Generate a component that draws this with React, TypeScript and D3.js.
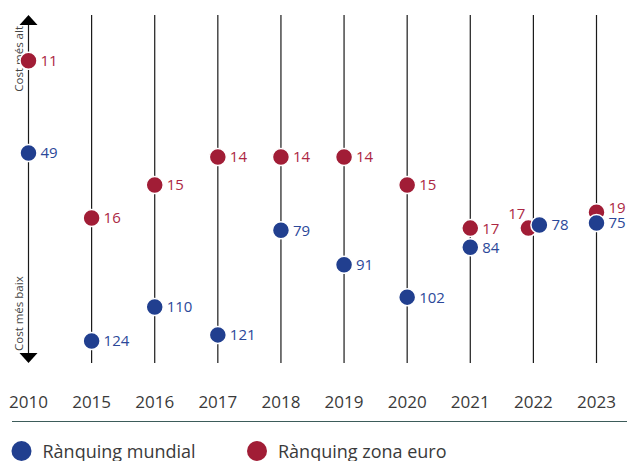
import React, { useEffect, useRef } from 'react';
import * as d3 from 'd3';

// anys de l'eix horitzontal
const years = ['2010', '2015', '2016', '2017', '2018', '2019', '2020', '2021', '2022', '2023'];

// rànquings (etiquetes dels punts)
const rankMundial = [49, 124, 110, 121, 79, 91, 102, 84, 78, 75];
const rankEuro = [11, 16, 15, 14, 14, 14, 15, 17, 17, 19];

// posició relativa de cost (0 = cost més baix, 100 = cost més alt), llegida del gràfic
const costMundial = [60.3, 5.0, 15.0, 6.8, 37.6, 27.4, 17.9, 32.6, 39.1, 39.7];
const costEuro = [87.4, 41.2, 50.9, 59.1, 59.1, 59.1, 50.9, 38.2, 38.2, 42.9];

const legendLabels = ['Rànquing mundial', 'Rànquing zona euro'];

const BLUE = '#213f8f';
const RED = '#a11d36';
const FONT = '"Open Sans", "Noto Sans", sans-serif';

const App = () => {
  const svgRef = useRef<SVGSVGElement | null>(null);

  useEffect(() => {
    if (!svgRef.current) return;
    const svg = d3.select(svgRef.current);
    svg.selectAll('*').remove();

    const width = 627;
    const lineTop = 15;
    const lineBottom = 363;

    const x = d3.scalePoint<string>().domain(years).range([28.5, 596.5]);
    const y = d3.scaleLinear().domain([0, 100]).range([358, 18]);

    const g = svg.append('g').style('font-family', FONT);

    // vertical guide lines
    g.selectAll('line.guide')
      .data(years)
      .enter()
      .append('line')
      .attr('class', 'guide')
      .attr('x1', d => x(d)!)
      .attr('x2', d => x(d)!)
      .attr('y1', (d, i) => (i === 0 ? lineTop + 8 : lineTop))
      .attr('y2', (d, i) => (i === 0 ? lineBottom - 8 : lineBottom))
      .attr('stroke', '#1a1a1a')
      .attr('stroke-width', 1.2);

    // arrows on the first line
    const ax = x(years[0])!;
    g.append('path')
      .attr('d', `M${ax},${lineTop} L${ax + 9},${lineTop + 10} L${ax - 9},${lineTop + 10} Z`)
      .attr('fill', '#000');
    g.append('path')
      .attr('d', `M${ax},${lineBottom} L${ax + 9},${lineBottom - 10} L${ax - 9},${lineBottom - 10} Z`)
      .attr('fill', '#000');

    // axis titles
    g.append('text')
      .attr('transform', `translate(22.5,26) rotate(-90)`)
      .attr('text-anchor', 'end')
      .attr('fill', '#444')
      .style('font-size', '11.5px')
      .text('Cost més alt');
    g.append('text')
      .attr('transform', `translate(22.5,351) rotate(-90)`)
      .attr('text-anchor', 'start')
      .attr('fill', '#444')
      .style('font-size', '11.5px')
      .text('Cost més baix');

    // build points, dodge when they overlap
    const rows = years.map((yr, i) => {
      const yb = y(costMundial[i]);
      const yr2 = y(costEuro[i]);
      const dy = Math.abs(yb - yr2);
      const dodge = dy < 8;
      const cx = x(yr)!;
      let labRed = yr2;
      let labBlue = yb;
      if (!dodge && dy < 15) {
        if (yr2 < yb) labRed = yb - 15;
        else labBlue = yr2 - 15;
      }
      return {
        yr, i, yb, yr2, dodge,
        cxRed: dodge ? cx - 5 : cx,
        cxBlue: dodge ? cx + 6 : cx,
        labRed, labBlue,
      };
    });

    // red (zona euro) first, blue on top
    g.selectAll('circle.euro')
      .data(rows)
      .enter()
      .append('circle')
      .attr('class', 'euro')
      .attr('cx', d => d.cxRed)
      .attr('cy', d => d.yr2)
      .attr('r', 8.5)
      .attr('fill', RED)
      .attr('stroke', '#fff')
      .attr('stroke-width', 1.5);

    g.selectAll('circle.mundial')
      .data(rows)
      .enter()
      .append('circle')
      .attr('class', 'mundial')
      .attr('cx', d => d.cxBlue)
      .attr('cy', d => d.yb)
      .attr('r', 8.5)
      .attr('fill', BLUE)
      .attr('stroke', '#fff')
      .attr('stroke-width', 1.5);

    // labels
    g.selectAll('text.euro')
      .data(rows)
      .enter()
      .append('text')
      .attr('class', 'euro')
      .attr('x', d => (d.dodge ? d.cxRed - 3 : d.cxRed + 12))
      .attr('y', d => (d.dodge ? d.labRed - 15 : d.labRed))
      .attr('dy', '0.36em')
      .attr('text-anchor', d => (d.dodge ? 'end' : 'start'))
      .attr('fill', '#ac2743')
      .style('font-size', '15px')
      .text(d => rankEuro[d.i]);

    g.selectAll('text.mundial')
      .data(rows)
      .enter()
      .append('text')
      .attr('class', 'mundial')
      .attr('x', d => d.cxBlue + 12)
      .attr('y', d => d.labBlue)
      .attr('dy', '0.36em')
      .attr('fill', '#2b4899')
      .style('font-size', '15px')
      .text(d => rankMundial[d.i]);

    // year labels
    g.selectAll('text.year')
      .data(years)
      .enter()
      .append('text')
      .attr('class', 'year')
      .attr('x', d => x(d)!)
      .attr('y', 408)
      .attr('text-anchor', 'middle')
      .attr('fill', '#3a3a3a')
      .style('font-size', '17px')
      .text(d => d);

    // base line
    g.append('line')
      .attr('x1', 12)
      .attr('x2', width)
      .attr('y1', 421.5)
      .attr('y2', 421.5)
      .attr('stroke', '#3d5c5a')
      .attr('stroke-width', 1.2);

    // legend
    const legendX = [21.5, 257];
    const legendColors = [BLUE, RED];
    const lg = g.selectAll('g.legend')
      .data(legendLabels)
      .enter()
      .append('g')
      .attr('class', 'legend')
      .attr('transform', (d, i) => `translate(${legendX[i]},451)`);
    lg.append('circle')
      .attr('r', 10)
      .attr('fill', (d, i) => legendColors[i]);
    lg.append('text')
      .attr('x', 21)
      .attr('y', 6.5)
      .attr('fill', '#3a3a3a')
      .style('font-size', '18px')
      .text(d => d);
  }, []);

  return (
    <div>
      <svg
        ref={svgRef}
        width={627}
        height={461}
        style={{ position: 'absolute', left: 0, top: 0, background: '#fff' }}
      ></svg>
    </div>
  );
};

export default App;
